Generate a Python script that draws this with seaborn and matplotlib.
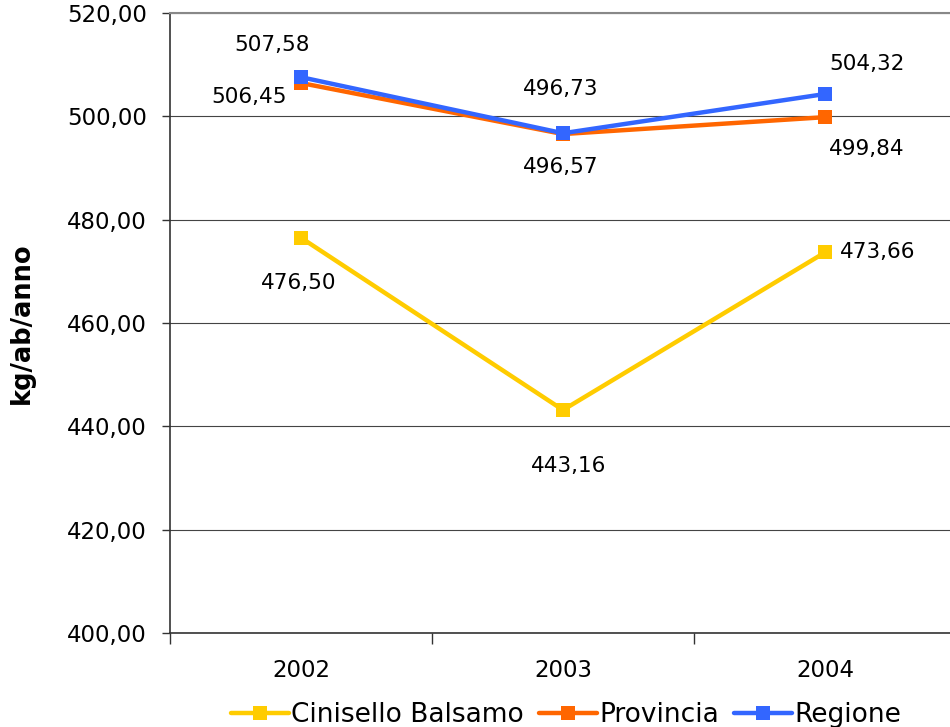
import matplotlib
matplotlib.use("Agg")
import matplotlib.pyplot as plt
import seaborn as sns
import pandas as pd

years = ["2002", "2003", "2004"]
cinisello = [476.50, 443.16, 473.66]
provincia = [506.45, 496.57, 499.84]
regione = [507.58, 496.73, 504.32]
series_names = ["Cinisello Balsamo", "Provincia", "Regione"]
colors = ["#FFCC00", "#FF6600", "#3366FF"]
y_ticks = [400, 420, 440, 460, 480, 500, 520]

rows = []
for name, vals in zip(series_names, [cinisello, provincia, regione]):
    for i, (yr, v) in enumerate(zip(years, vals)):
        rows.append({"pos": i, "anno": yr, "valore": v, "serie": name})
df = pd.DataFrame(rows)

sns.set_theme(style="white")
plt.rcParams["font.family"] = ["DejaVu Sans"]
plt.rcParams["text.color"] = "black"
plt.rcParams["axes.labelcolor"] = "black"
plt.rcParams["xtick.color"] = "black"
plt.rcParams["ytick.color"] = "black"

fig = plt.figure(figsize=(9.5, 7.27), dpi=100)
ax = fig.add_axes([170 / 950, 1 - 633 / 727, 786 / 950, 620 / 727])

sns.lineplot(data=df, x="pos", y="valore", hue="serie", hue_order=series_names,
             palette=colors, marker="s", markersize=10, markeredgewidth=0,
             linewidth=3.2, dashes=False, ax=ax, legend=True)

ax.set_xlim(-0.5, 2.5)
ax.set_ylim(400, 520)
ax.set_yticks(y_ticks)
ax.set_yticklabels([f"{v:.2f}".replace(".", ",") for v in y_ticks], fontsize=16.5)
ax.yaxis.grid(True, color="#444444", linewidth=0.8)
ax.set_axisbelow(True)

# category ticks on boundaries, labels centered
ax.set_xticks([-0.5, 0.5, 1.5, 2.5])
ax.set_xticklabels([])
ax.set_xticks([0, 1, 2], minor=True)
ax.set_xticklabels(years, minor=True, fontsize=16.5)
ax.tick_params(axis="x", which="major", direction="out", length=8, width=1, color="#333333", bottom=True)
ax.tick_params(axis="x", which="minor", length=0, pad=19)
ax.tick_params(axis="y", direction="out", length=6, width=1, color="#333333", left=True, pad=10.5)

for side in ["left", "bottom"]:
    ax.spines[side].set_color("#333333")
    ax.spines[side].set_linewidth(1.2)
ax.spines["top"].set_color("#888888")
ax.spines["top"].set_linewidth(1.5)
ax.spines["right"].set_visible(False)

ax.set_xlabel("")
ax.set_ylabel("kg/ab/anno", fontsize=18.5, fontweight="bold")
ax.yaxis.set_label_coords(-0.172, 0.5)

# value labels
offsets = {
    "Cinisello Balsamo": [(-2, -45), (6, -56), (53, 0)],
    "Provincia": [(-52, -14), (-2, -33), (42, -32)],
    "Regione": [(-29, 32), (-2, 44), (42, 30)],
}
for name, vals in zip(series_names, [cinisello, provincia, regione]):
    for i, v in enumerate(vals):
        dx, dy = offsets[name][i]
        ax.annotate(f"{v:.2f}".replace(".", ","), (i, v), xytext=(dx, dy),
                    textcoords="offset pixels", ha="center", va="center", fontsize=15.5)

handles, labels = ax.get_legend_handles_labels()
ax.legend(handles, labels, loc="center", bbox_to_anchor=(566 / 950, 1 - 715 / 727),
          bbox_transform=fig.transFigure, ncol=3, frameon=False, handlelength=2.2,
          handletextpad=0.1, columnspacing=0.55, prop={"size": 19})

fig.savefig("out.png", dpi=100)
